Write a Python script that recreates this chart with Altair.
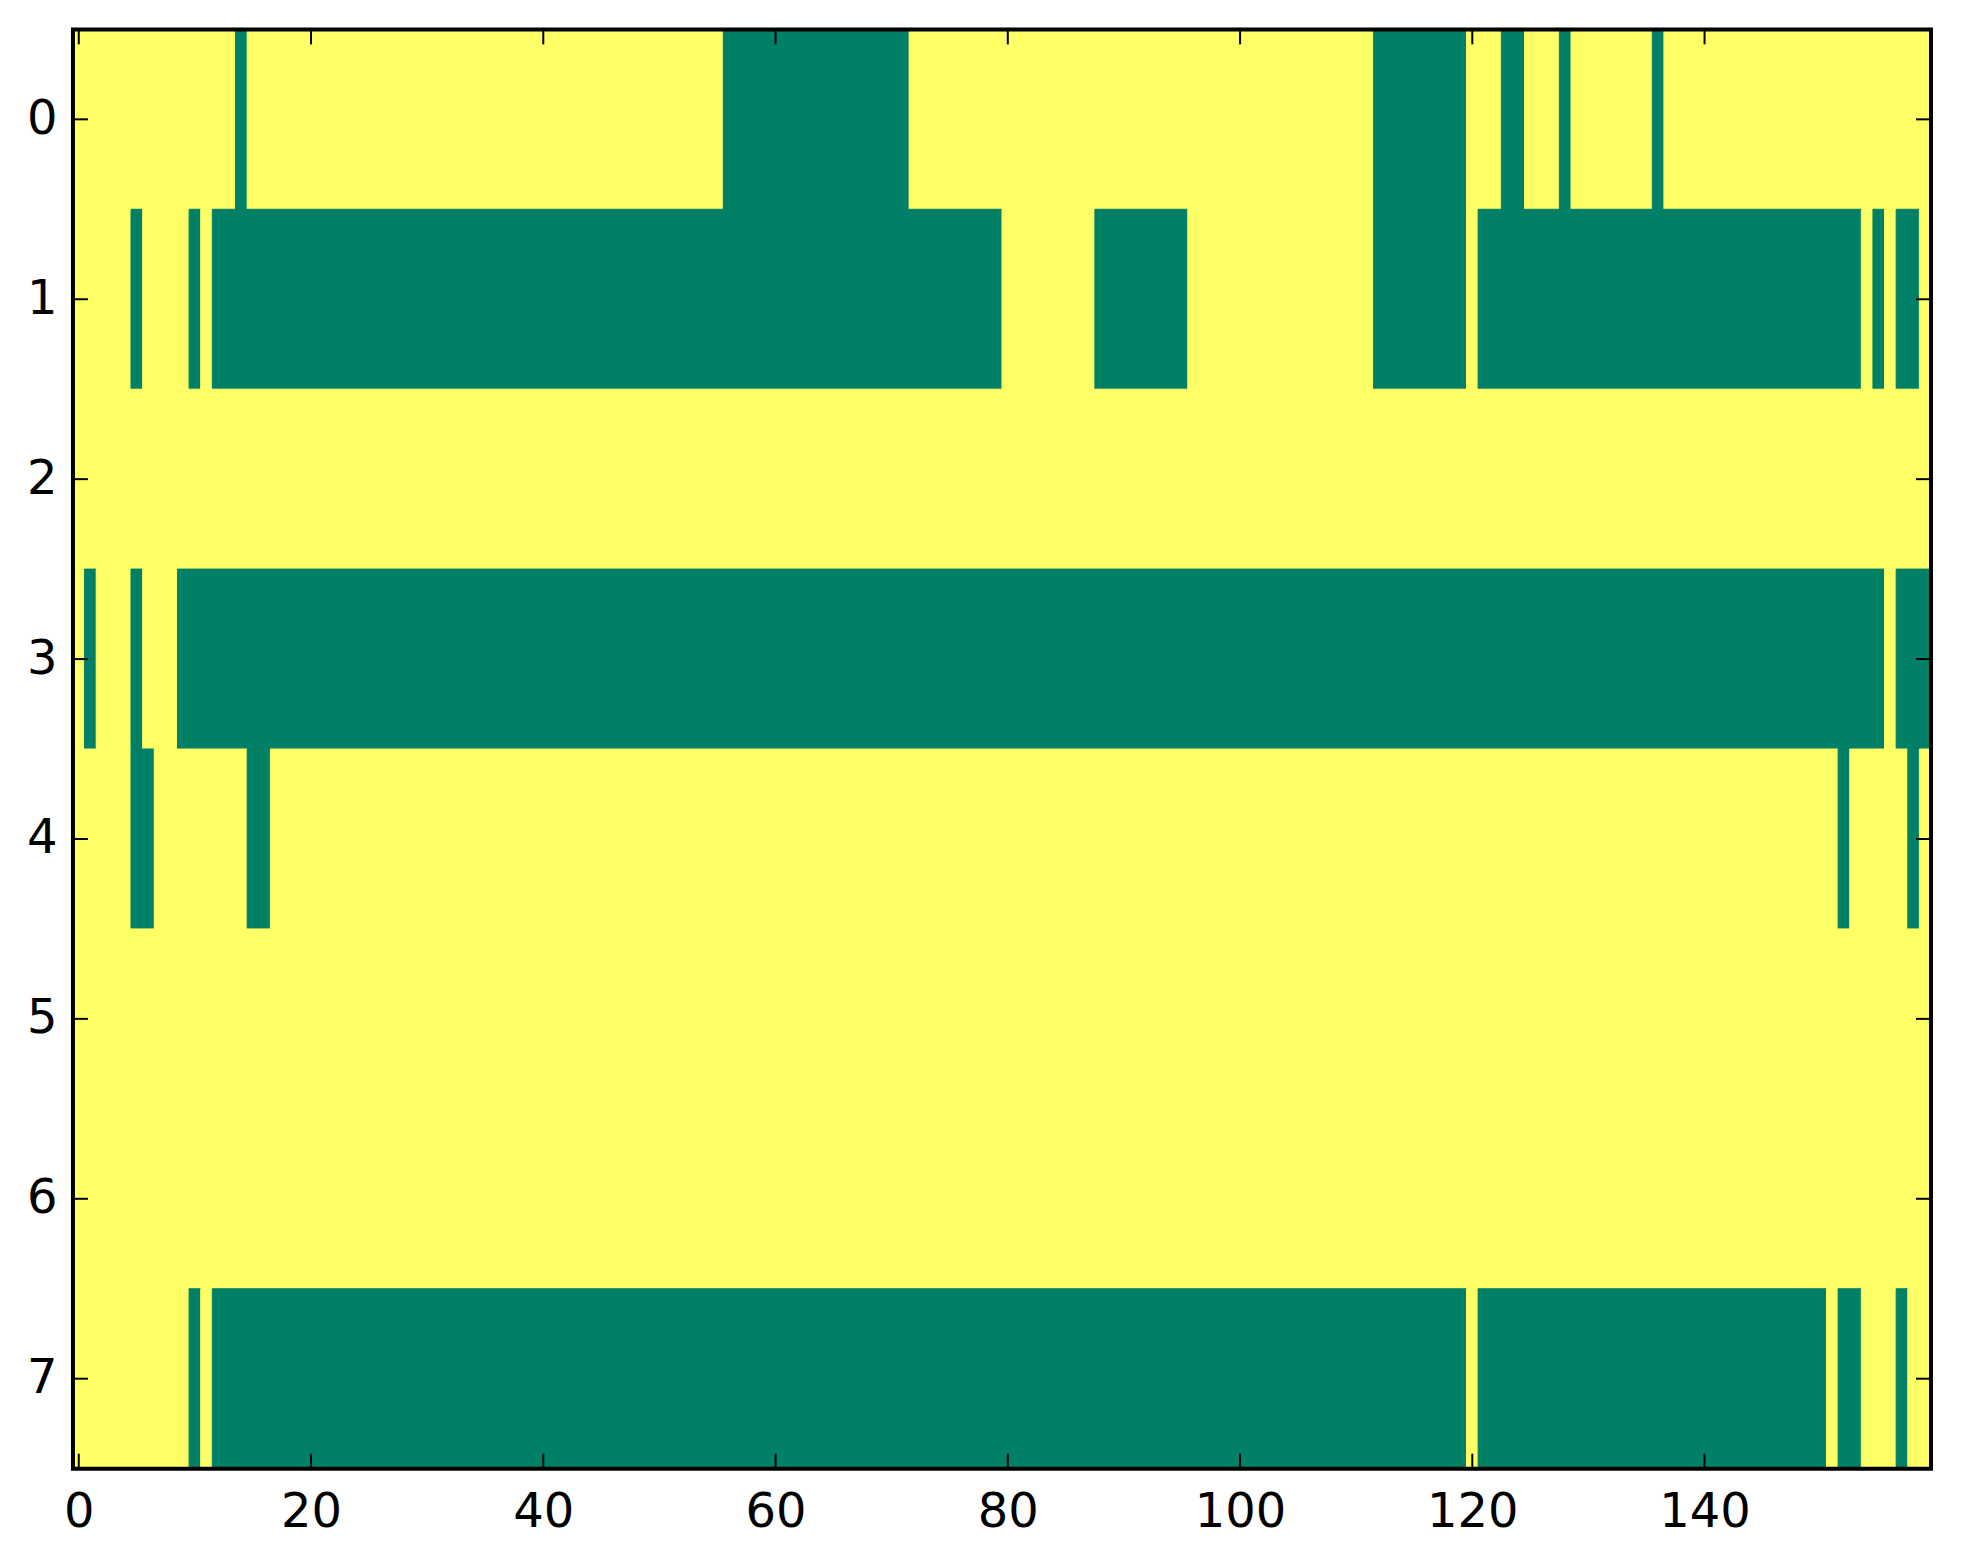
import altair as alt
import pandas as pd

# ---- data -----------------------------------------------------------------
N_ROWS = 8
N_COLS = 160
# green (value 0) runs per row, as inclusive column ranges; every other cell is 1 (yellow)
ROW0_GREEN = [(14, 14), (56, 71), (112, 119), (123, 124), (128, 128), (136, 136)]
ROW1_GREEN = [(5, 5), (10, 10), (12, 79), (88, 95), (112, 119), (121, 153), (155, 155), (157, 158)]
ROW2_GREEN = []
ROW3_GREEN = [(1, 1), (5, 5), (9, 155), (157, 159)]
ROW4_GREEN = [(5, 6), (15, 16), (152, 152), (158, 158)]
ROW5_GREEN = []
ROW6_GREEN = []
ROW7_GREEN = [(10, 10), (12, 119), (121, 150), (152, 153), (157, 157)]
GREEN_RUNS = [ROW0_GREEN, ROW1_GREEN, ROW2_GREEN, ROW3_GREEN,
              ROW4_GREEN, ROW5_GREEN, ROW6_GREEN, ROW7_GREEN]

X_TICKS = [0, 20, 40, 60, 80, 100, 120, 140]
Y_TICKS = [0, 1, 2, 3, 4, 5, 6, 7]

GREEN = "#008066"
YELLOW = "#ffff66"

# ---- build matrix and constant-value runs ----------------------------------
records = []
for r in range(N_ROWS):
    cells = [1] * N_COLS
    for a, b in GREEN_RUNS[r]:
        for c in range(a, b + 1):
            cells[c] = 0
    start = 0
    for c in range(1, N_COLS + 1):
        if c == N_COLS or cells[c] != cells[start]:
            records.append({"row": r, "x0": start - 0.5, "x1": c - 1 + 0.5,
                            "y0": r - 0.5, "y1": r + 0.5, "value": cells[start]})
            start = c
runs = pd.DataFrame(records)

W, H = 1859, 1440
TICK = 15

xs = alt.Scale(domain=[-0.5, N_COLS - 0.5], nice=False, zero=False)
ys = alt.Scale(domain=[-0.5, N_ROWS - 0.5], nice=False, zero=False, reverse=True)
xaxis = alt.Axis(values=X_TICKS, title=None, ticks=False, domain=False, grid=False,
                 labelPadding=20, format="d", labelFont="DejaVu Sans",
                 labelFontSize=48, labelColor="black")
yaxis = alt.Axis(values=Y_TICKS, title=None, ticks=False, domain=False, grid=False,
                 labelPadding=16, format="d", labelFont="DejaVu Sans",
                 labelFontSize=48, labelColor="black")
cscale = alt.Scale(domain=[0, 1], range=[GREEN, YELLOW])

heat = alt.Chart(runs).mark_rect(strokeWidth=1).encode(
    x=alt.X("x0:Q", scale=xs, axis=xaxis),
    x2="x1:Q",
    y=alt.Y("y0:Q", scale=ys, axis=yaxis),
    y2="y1:Q",
    fill=alt.Fill("value:O", scale=cscale, legend=None),
    stroke=alt.Stroke("value:O", scale=cscale, legend=None),
)

xt = pd.DataFrame({"x0": X_TICKS})
yt = pd.DataFrame({"y0": Y_TICKS})

tick_bottom = alt.Chart(xt).mark_rule(color="black", strokeWidth=2).encode(
    x=alt.X("x0:Q", scale=xs, axis=xaxis), y=alt.value(H), y2=alt.value(H - TICK))
tick_top = alt.Chart(xt).mark_rule(color="black", strokeWidth=2).encode(
    x=alt.X("x0:Q", scale=xs, axis=xaxis), y=alt.value(0), y2=alt.value(TICK))
tick_left = alt.Chart(yt).mark_rule(color="black", strokeWidth=2).encode(
    y=alt.Y("y0:Q", scale=ys, axis=yaxis), x=alt.value(0), x2=alt.value(TICK))
tick_right = alt.Chart(yt).mark_rule(color="black", strokeWidth=2).encode(
    y=alt.Y("y0:Q", scale=ys, axis=yaxis), x=alt.value(W), x2=alt.value(W - TICK))

frame = alt.Chart(pd.DataFrame({"f": [0]})).mark_rect(
    filled=False, stroke="black", strokeWidth=4).encode(
    x=alt.value(0), x2=alt.value(W), y=alt.value(0), y2=alt.value(H))

chart = alt.layer(heat, tick_bottom, tick_top, tick_left, tick_right, frame).properties(
    width=W, height=H,
    background="white",
    autosize=alt.AutoSizeParams(type="none"),
    padding={"left": 65, "top": 21, "right": 24, "bottom": 87},
).configure_view(stroke=None).configure_axis(
    labelFont="DejaVu Sans", labelFontSize=48, labelColor="black",
)

chart.save("out.html", embed_options={"renderer": "svg", "actions": False})
